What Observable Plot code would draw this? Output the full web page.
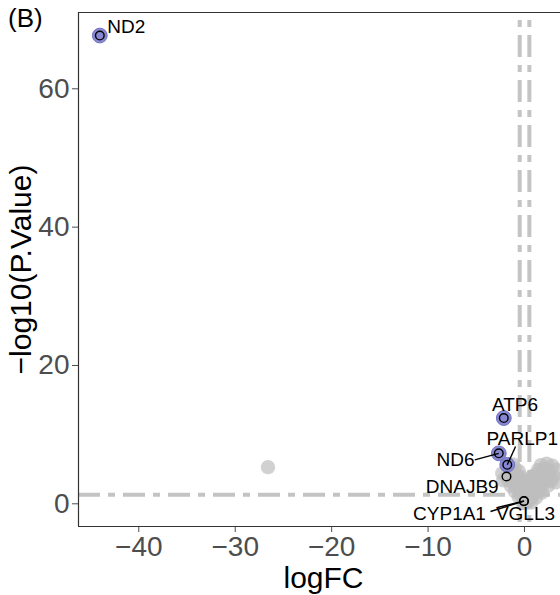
<!DOCTYPE html>
<html><head><meta charset="utf-8">
<script src="https://cdn.jsdelivr.net/npm/d3@7"></script>
<script src="https://cdn.jsdelivr.net/npm/@observablehq/plot@0.6"></script>
<style>
html,body{margin:0;padding:0;background:#fff;}
#wrap{position:relative;width:560px;height:595px;overflow:hidden;font-family:"Liberation Sans",Arial,sans-serif;}
#tag{position:absolute;left:8px;top:5px;font-size:26px;line-height:1;color:#000;}
</style></head><body>
<div id="wrap"><div id="tag">(B)</div></div>
<script>
// Axis settings
const xDomain = [-46.25, 3.73];
const yDomain = [-3.28, 71.03];
const xTicks = [-40, -30, -20, -10, 0];
const yTicks = [0, 20, 40, 60];
const fcCut = [-0.5, 0.5];
const pCut = [1.301];

// Non-significant (grey) genes
const bgX = [-26.6,
  -0.2, 0.1, 0.4, 0.7, 0.2,
  -0.6, -0.2, 0.3, 0.8, 1.2,
  -1.0, -0.5, 0.0, 0.5, 1.0, 1.5, 1.8,
  -1.4, -0.9, -0.4, 0.2, 0.7, 1.2, 1.8, 2.4,
  -1.7, -1.2, -0.7, -0.1, 0.5, 1.1, 1.6, 2.2, 2.8, 3.2,
  -1.8, -1.3, -0.8, -0.4, 0.8, 1.3, 1.9, 2.5, 3.0,
  -1.5, -1.0, -0.6, 1.4, 2.0, 2.6,
  -2.2, -2.3, -1.2, 1.7, 2.3, 2.9, 3.3];
const bgY = [5.3,
  0.2, 0.1, 0.3, 0.2, 0.5,
  1.0, 0.9, 1.1, 1.0, 0.9,
  1.8, 1.7, 1.9, 1.8, 1.7, 1.9, 1.6,
  2.6, 2.5, 2.7, 2.6, 2.5, 2.7, 2.5, 2.6,
  3.4, 3.3, 3.5, 3.2, 3.4, 3.3, 3.5, 3.4, 3.3, 3.1,
  4.2, 4.3, 4.1, 3.9, 4.0, 4.3, 4.2, 4.4, 4.0,
  5.0, 5.1, 4.7, 4.9, 5.0, 4.8,
  3.4, 4.4, 5.7, 5.6, 5.8, 5.5, 4.9];

// Labelled genes
const genes  = ["ND2", "ATP6", "ND6", "PARLP1", "DNAJB9", "CYP1A1", "VGLL3"];
const geneFC = [-44.04, -2.15, -2.67, -1.79, -1.87, -0.07, -0.05];
const geneP  = [67.7, 12.4, 7.3, 5.64, 3.95, 0.38, 0.40];
const geneSig = [true, true, true, true, false, false, false];
// Repelled label positions (data units) and segment starts (null = no segment)
const labelX = [-41.3, -0.99, -7.16, -0.24, -6.46, -7.78, 0.10];
const labelY = [68.93, 14.36, 6.39, 9.44, 2.50, -1.40, -1.40];
const segX = [null, null, -5.16, -0.93, null, -3.53, -2.80];
const segY = [null, null, 6.36, 8.28, null, -1.11, -0.54];

const bg = bgX.map((x, i) => ({x, y: bgY[i]}));
const lab = genes.map((g, i) => ({gene: g, x: geneFC[i], y: geneP[i], sig: geneSig[i],
  lx: labelX[i], ly: labelY[i], sx: segX[i], sy: segY[i]}));
const sig = lab.filter(d => d.sig);
const segs = lab.filter(d => d.sx != null);

const font = "Liberation Sans, Arial, sans-serif";
const plot = Plot.plot({
  width: 560, height: 595,
  marginLeft: 78, marginRight: 0, marginTop: 12, marginBottom: 69,
  x: {domain: xDomain},
  y: {domain: yDomain},
  style: {fontFamily: font, background: "transparent", overflow: "hidden"},
  marks: [
    Plot.ruleX(fcCut, {stroke: "#c4c4c4", strokeWidth: 4, strokeDasharray: "7,8,22,8", strokeDashoffset: 37}),
    Plot.ruleY(pCut, {stroke: "#c4c4c4", strokeWidth: 4, strokeDasharray: "22,8,7,8", strokeDashoffset: 0}),
    Plot.dot(bg, {x: "x", y: "y", r: 7.2, fill: "#bebebe", fillOpacity: 0.7, stroke: "none"}),
    Plot.dot(sig, {x: "x", y: "y", r: 7.4, fill: "#8888d2", stroke: "#7272c2", strokeWidth: 1}),
    Plot.dot(lab, {x: "x", y: "y", r: 4.3, fill: "none", stroke: "black", strokeWidth: 1.4}),
    Plot.link(segs, {x1: "sx", y1: "sy", x2: "x", y2: "y", stroke: "black", strokeWidth: 1.4}),
    Plot.text(lab, {x: "lx", y: "ly", text: "gene", fontSize: 19, fill: "black"}),
    Plot.axisX({ticks: xTicks, tickSize: 6, tickPadding: 4, fontSize: 28, color: "#4d4d4d", label: null}),
    Plot.axisY({ticks: yTicks, tickSize: 6, tickPadding: 3, fontSize: 28, color: "#4d4d4d", label: null}),
    Plot.ruleX([xDomain[0]], {stroke: "#333", strokeWidth: 1.2}),
    Plot.ruleY(yDomain, {stroke: "#333", strokeWidth: 1.2}),
    Plot.text(["logFC"], {frameAnchor: "bottom", lineAnchor: "middle", textAnchor: "middle", dy: 52, dx: 4, fontSize: 30, fill: "black"}),
    Plot.text(["−log10(P.Value)"], {frameAnchor: "left", textAnchor: "middle", lineAnchor: "middle", dx: -57, rotate: -90, fontSize: 30, fill: "black"})
  ]
});
document.getElementById("wrap").appendChild(plot);
</script>
</body></html>
